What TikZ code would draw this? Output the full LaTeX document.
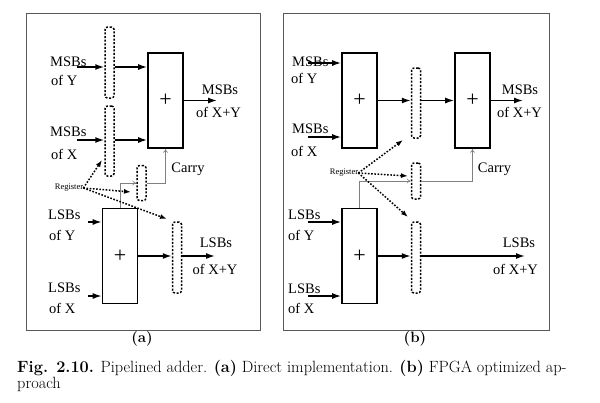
\documentclass[tikz,border=0pt]{standalone}
\usepackage{fontspec}
\newfontfamily\lblfont{Liberation Serif}
\usetikzlibrary{arrows.meta}

\tikzset{
adder/.style={draw, line width=1.6pt, minimum width=35pt, minimum height=95pt, inner sep=0pt, font=\lblfont\fontsize{22}{22}\selectfont},
reg/.style={draw, line width=1.5pt, dash pattern=on 2pt off 1.6pt, rounded corners=2.5pt, minimum width=9pt, inner sep=0pt},
sig/.style={-{Latex[length=9pt,width=6pt]}, line width=1.5pt},
carry/.style={-{To[length=4pt,width=5pt]}, gray, line width=0.6pt},
regptr/.style={-{Latex[length=7pt,width=5pt]}, line width=1.5pt, dash pattern=on 1.6pt off 1.6pt},
lbl/.style={font=\lblfont\fontsize{14.5}{16}\selectfont, inner sep=0pt},
reglbl/.style={font=\lblfont\fontsize{8.5}{9}\selectfont, inner sep=0pt},
frame/.style={draw=black!65, line width=0.8pt},
captext/.style={font=\fontsize{16.3}{17}\selectfont, inner sep=0pt, anchor=base west}
}

\begin{document}
\begin{tikzpicture}[x=1pt,y=-1pt]
\useasboundingbox (0,0) rectangle (600,402);
\draw [frame] (26,13) rectangle (260,330);
\draw [frame] (283,13) rectangle (549,330);

% (a) direct implementation
\node [adder] (addMa) at (165.5,100.5) {+};
\node [adder] (addLa) at (120,256) {+};
\node [reg, minimum height=71pt] (regYa) at (109.5,62.5) {};
\node [reg, minimum height=70pt] (regXa) at (109.5,141) {};
\node [reg, minimum height=35pt] (regCa) at (141.5,183) {};
\node [reg, minimum height=71pt] (regLa) at (177,257.5) {};

\coordinate (inYa) at (77,67);
\coordinate (inXa) at (77,140);
\coordinate (inLYa) at (88,222);
\coordinate (inLXa) at (88,296);
\coordinate (outMa) at (217,100.5);
\coordinate (outLa) at (215,256);

\draw [sig] (inYa) -- (inYa -| regYa.west);
\draw [sig] (regYa.east |- inYa) -- (addMa.west |- inYa);
\draw [sig] (inXa) -- (inXa -| regXa.west);
\draw [sig] (regXa.east |- inXa) -- (addMa.west |- inXa);
\draw [sig] (addMa.east) -- (outMa);
\draw [sig] (inLYa) -- (inLYa -| addLa.west);
\draw [sig] (inLXa) -- (inLXa -| addLa.west);
\draw [sig] (addLa.east) -- (addLa.east -| regLa.west);
\draw [sig] (regLa.east |- addLa.east) -- (outLa);
\draw [carry] (regCa.east) -| (addMa.south);
\draw [carry] (addLa.north) |- (regCa.west);

\node [lbl, anchor=west] (lYa) at (50,62) {MSBs};
\node [lbl, anchor=west] (lYoa) at (51,80) {of Y};
\node [lbl, anchor=west] (lXa) at (50,132) {MSBs};
\node [lbl, anchor=west] (lXoa) at (51,154.5) {of X};
\node [lbl, anchor=west] (lLYa) at (48,215) {LSBs};
\node [lbl, anchor=west] (lLYoa) at (49,235) {of Y};
\node [lbl, anchor=west] (lLXa) at (48,288) {LSBs};
\node [lbl, anchor=west] (lLXoa) at (49,308) {of X};
\node [lbl] (lMsa) at (220,89.5) {MSBs};
\node [lbl] (lMoa) at (218.5,112.5) {of X+Y};
\node [lbl] (lLsa) at (216,243) {LSBs};
\node [lbl] (lLoa) at (215,269.5) {of X+Y};
\node [lbl] (lCa) at (188,169) {Carry};

\node [reglbl] (rega) at (69,188) {Register};
\coordinate (tXa) at (102,160);
\coordinate (tCa) at (131,192);
\coordinate (tLa) at (167,219);
\draw [regptr] (rega.east) -- (tXa);
\draw [regptr] (rega.east) -- (tCa);
\draw [regptr] (rega.east) -- (tLa);

% (b) FPGA optimized
\node [adder] (addM1b) at (359.5,100.5) {+};
\node [adder] (addM2b) at (472.5,100.5) {+};
\node [adder] (addLb) at (359.5,256) {+};
\node [reg, minimum height=70pt] (regMb) at (416,103) {};
\node [reg, minimum height=36pt] (regCb) at (416,181) {};
\node [reg, minimum height=71pt] (regLb) at (416,257.5) {};

\coordinate (inYb) at (308,63);
\coordinate (inXb) at (308,137);
\coordinate (inLYb) at (308,222);
\coordinate (inLXb) at (308,296);
\coordinate (outMb) at (523,100.5);
\coordinate (outLb) at (525,256);

\draw [sig] (inYb) -- (inYb -| addM1b.west);
\draw [sig] (inXb) -- (inXb -| addM1b.west);
\draw [sig] (addM1b.east) -- (addM1b.east -| regMb.west);
\draw [sig] (regMb.east |- addM1b.east) -- (addM2b.west);
\draw [sig] (addM2b.east) -- (outMb);
\draw [sig] (inLYb) -- (inLYb -| addLb.west);
\draw [sig] (inLXb) -- (inLXb -| addLb.west);
\draw [sig] (addLb.east) -- (addLb.east -| regLb.west);
\draw [sig] (regLb.east |- addLb.east) -- (outLb);
\draw [carry] (regCb.east) -| (addM2b.south);
\draw [carry] (addLb.north) |- (regCb.west);

\node [lbl, anchor=west] (lYb) at (292,62) {MSBs};
\node [lbl, anchor=west] (lYob) at (291,78) {of Y};
\node [lbl, anchor=west] (lXb) at (292,128.5) {MSBs};
\node [lbl, anchor=west] (lXob) at (291,151.5) {of X};
\node [lbl, anchor=west] (lLYb) at (288,215) {LSBs};
\node [lbl, anchor=west] (lLYob) at (288,235) {of Y};
\node [lbl, anchor=west] (lLXb) at (288,288.5) {LSBs};
\node [lbl, anchor=west] (lLXob) at (288,308) {of X};
\node [lbl] (lMsb) at (520,89.5) {MSBs};
\node [lbl] (lMob) at (519.5,112.5) {of X+Y};
\node [lbl] (lLsb) at (519,243) {LSBs};
\node [lbl] (lLob) at (515.5,269.5) {of X+Y};
\node [lbl] (lCb) at (494.5,169) {Carry};

\node [reglbl] (regb) at (344,173) {Register};
\coordinate (tMb) at (403,140);
\coordinate (tCb) at (408,176);
\coordinate (tLb) at (408,217);
\draw [regptr] (regb.east) -- (tMb);
\draw [regptr] (regb.east) -- (tCb);
\draw [regptr] (regb.east) -- (tLb);

% sub captions and caption
\node [font=\bfseries\fontsize{15}{16}\selectfont] (suba) at (142,339) {(a)};
\node [font=\bfseries\fontsize{15}{16}\selectfont] (subb) at (415,339) {(b)};
\node [captext] (cap1) at (17,372) {\textbf{Fig. 2.10.} Pipelined adder. \textbf{(a)} Direct implementation. \textbf{(b)} FPGA optimized ap-};
\node [captext] (cap2) at (17,388) {proach};
\end{tikzpicture}
\end{document}
